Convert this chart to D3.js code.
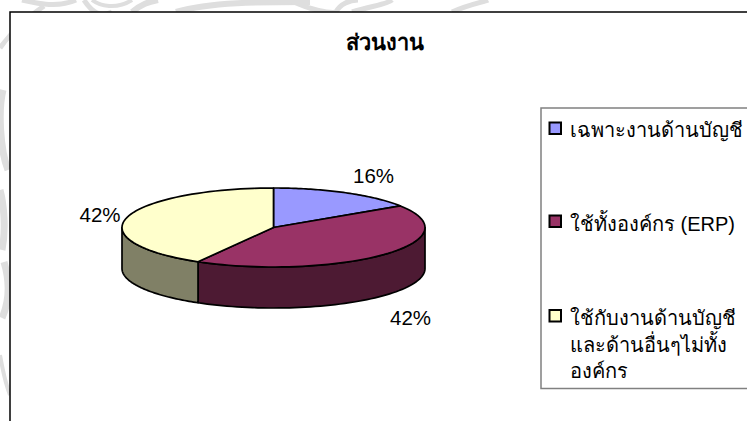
<!DOCTYPE html>
<html><head><meta charset="utf-8">
<script src="https://cdn.jsdelivr.net/npm/d3@7"></script>
<style>
html,body{margin:0;padding:0;background:#fff}
svg{display:block}
text{font-family:"Liberation Sans","Noto Sans",Arial,sans-serif;fill:#000}
</style></head><body>
<svg id="c" width="747" height="421"></svg>
<script>
const title = "ส่วนงาน";
const categories = ["เฉพาะงานด้านบัญชี","ใช้ทั้งองค์กร (ERP)","ใช้กับงานด้านบัญชี"];
const legendLines = [["เฉพาะงานด้านบัญชี"],["ใช้ทั้งองค์กร (ERP)"],["ใช้กับงานด้านบัญชี","และด้านอื่นๆไม่ทั้ง","องค์กร"]];
const values = [15.8,42.5,41.7];
const labels = ["16%","42%","42%"];
const topColors = ["#9999ff","#993366","#ffffcc"];
const sideColors = ["#4d4d80","#4d1a33","#808066"];

const svg = d3.select("#c");
const W=747,H=421;

// faint watermark behind the chart frame
const wm = svg.append("g").attr("fill","none").attr("stroke","#dedede");
[["M0 48C14 28 30 16 44 6",5],["M22 0C40 4 58 8 76 0",5],["M84 0C92 12 100 18 112 12",5],
 ["M92 0C100 6 116 10 132 0",4],["M132 12C142 4 148 2 158 0",6],["M176 12C210 2 260 2 310 2",6],
 ["M290 0C310 10 330 14 338 12",5],["M336 12C340 4 350 0 358 0",5],["M352 12C372 6 388 4 392 0",5],
 ["M452 12C470 4 484 2 488 0",5],["M3 90C-2 110 0 150 8 170",7],["M0 190C4 205 6 230 2 250",7],
 ["M4 262C10 282 10 300 2 318",7],["M0 355C3 372 6 385 10 395",4]]
 .forEach(d=>wm.append("path").attr("d",d[0]).attr("stroke-width",d[1]));

// chart area
svg.append("rect").attr("x",10).attr("y",12).attr("width",W+20).attr("height",H+20)
  .attr("fill","#fff").attr("stroke","#000").attr("stroke-width",1.5);

svg.append("text").attr("x",385).attr("y",50).attr("text-anchor","middle")
  .attr("font-size",21.8).attr("font-weight","bold").text(title);

// 3D pie
const rxScale = d3.scaleLinear().domain([0,1]).range([0,151.5]);
const ryScale = d3.scaleLinear().domain([0,1]).range([0,39.5]);
const cx=273.5, cy=227.5, depth=41;
const px = a => cx+rxScale(Math.sin(a));
const py = a => cy-ryScale(Math.cos(a));
const arcs = d3.pie().sort(null).value(d=>d)(values);
const line = d3.line();
const sample = (a0,a1) => d3.range(0,61).map(i=>a0+(a1-a0)*i/60);
const g = svg.append("g").attr("stroke","#000").attr("stroke-width",1.7).attr("stroke-linejoin","round");

// side walls
arcs.forEach((d,i)=>{
  const a0=Math.max(d.startAngle,Math.PI/2), a1=Math.min(d.endAngle,Math.PI*1.5);
  if(a1<=a0) return;
  const s=sample(a0,a1);
  const pts=s.map(a=>[px(a),py(a)]).concat(s.slice().reverse().map(a=>[px(a),py(a)+depth]));
  g.append("path").attr("d",line(pts)+"Z").attr("fill",sideColors[i]);
});
// top faces
arcs.forEach((d,i)=>{
  const pts=[[cx,cy]].concat(sample(d.startAngle,d.endAngle).map(a=>[px(a),py(a)]));
  g.append("path").attr("d",line(pts)+"Z").attr("fill",topColors[i]);
});

// percent labels
const labelPos=[[373.5,182.5],[410.5,325],[100,222]];
labels.forEach((t,i)=>svg.append("text").attr("x",labelPos[i][0]).attr("y",labelPos[i][1])
  .attr("text-anchor","middle").attr("font-size",20.5).text(t));

// legend
svg.append("rect").attr("x",541).attr("y",108).attr("width",W+20-541).attr("height",280.5)
  .attr("fill","#fff").attr("stroke","#808080").attr("stroke-width",1.5);
const swY=[122.5,215.5,310], txtY=[136.5,231,325];
categories.forEach((c,i)=>{
  svg.append("rect").attr("x",549.5).attr("y",swY[i]).attr("width",11.5).attr("height",11.5)
    .attr("fill",topColors[i]).attr("stroke","#000").attr("stroke-width",2);
  legendLines[i].forEach((l,j)=>svg.append("text").attr("x",570).attr("y",txtY[i]+j*26.5)
    .attr("font-size",20).text(l));
});
</script></body></html>
